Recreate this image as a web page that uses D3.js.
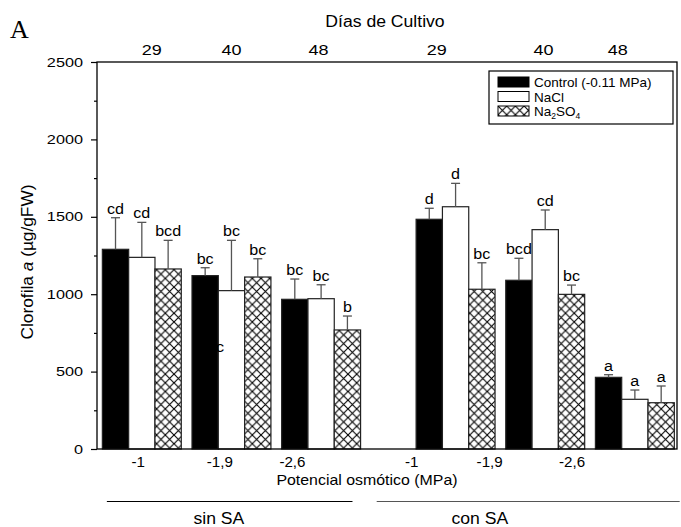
<!DOCTYPE html>
<html lang="es">
<head>
<meta charset="utf-8">
<script src="https://cdn.jsdelivr.net/npm/d3@7"></script>
<style>
  body { margin: 0; background: #fff; }
  #chart text { font-family: "Liberation Sans", Arial, sans-serif; fill: #000; }
</style>
</head>
<body>
<div id="chart"></div>
<script>
// Datos (clorofila a, µg/gFW)
const grupos = ["-1", "-1,9", "-2,6", "-1", "-1,9", "-2,6"];
const posGrupos = [0, 1, 2, 3.5, 4.5, 5.5];          // posición de cada grupo en el eje x
const series = ["Control (-0.11 MPa)", "NaCl", "Na2SO4"];
const control = [1290, 1120, 967, 1484, 1090, 463];
const nacl = [1238, 1023, 971, 1565, 1417, 321];
const na2so4 = [1163, 1111, 769, 1032, 999, 299];
const controlErr = [204, 51, 131, 71, 142, 17];
const naclErr = [226, 325, 90, 151, 127, 60];
const na2so4Err = [185, 118, 90, 171, 60, 108];
const controlLetras = ["cd", "bc", "bc", "d", "bcd", "a"];
const naclLetras = ["cd", "bc", "bc", "d", "cd", "a"];
const na2so4Letras = ["bcd", "bc", "b", "bc", "bc", "a"];

// Etiquetas de los ejes
const dias = ["29", "40", "48", "29", "40", "48"];
const diasPos = [0.11, 1.0, 1.97, 3.29, 4.48, 5.31];
const potPos = [-0.04, 0.87, 1.68, 3.01, 3.88, 4.8];
const yTicks = [0, 500, 1000, 1500, 2000, 2500];
const yMinor = [250, 750, 1250, 1750, 2250];
const bloques = [
  { nombre: "sin SA", ini: -0.39, fin: 2.35, texto: 0.86 },
  { nombre: "con SA", ini: 2.62, fin: 6.0, texto: 3.77 }
];
// Letra suelta que aparece medio tapada por la barra negra
const letraSuelta = { pos: 0.82, valor: 627, texto: "bc" };

const width = 681, height = 527;
const bw = 0.2935;  // ancho de barra en unidades de grupo

const x = d3.scaleLinear().domain([-0.5, 5.97]).range([97, 677]);
const y = d3.scaleLinear().domain([0, 2500]).range([449, 62]);

const svg = d3.select("#chart").append("svg")
  .attr("width", width)
  .attr("height", height);

// Ensancha un texto (el original está estirado en horizontal)
function widen(sel, k) {
  sel.each(function () {
    const w = this.getComputedTextLength();
    d3.select(this).attr("textLength", w * k).attr("lengthAdjust", "spacingAndGlyphs");
  });
}

// Patrón de rejilla cruzada para Na2SO4
const defs = svg.append("defs");
const p = 8.7;
const pat = defs.append("pattern")
  .attr("id", "cruz")
  .attr("patternUnits", "userSpaceOnUse")
  .attr("width", p).attr("height", p);
pat.append("rect").attr("width", p).attr("height", p).attr("fill", "#fff");
pat.append("path")
  .attr("d", `M0,0L${p},${p}M${p},0L0,${p}`)
  .attr("stroke", "#000").attr("stroke-width", 1.1);

const rellenos = ["#000", "#fff", "url(#cruz)"];
const valores = [control, nacl, na2so4];
const errores = [controlErr, naclErr, na2so4Err];
const letras = [controlLetras, naclLetras, na2so4Letras];

// Una fila por barra
const barras = [];
series.forEach((s, k) => {
  grupos.forEach((g, i) => {
    barras.push({
      serie: k,
      centro: posGrupos[i] + (k - 1) * bw,
      valor: valores[k][i],
      err: errores[k][i],
      letra: letras[k][i]
    });
  });
});

const bwPx = x(bw) - x(0);

// Barras
svg.append("g")
  .selectAll("rect")
  .data(barras)
  .join("rect")
  .attr("x", d => x(d.centro) - bwPx / 2)
  .attr("y", d => y(d.valor))
  .attr("width", bwPx)
  .attr("height", d => y(0) - y(d.valor))
  .attr("fill", d => rellenos[d.serie])
  .attr("stroke", "#222")
  .attr("stroke-width", 1.2);

// Letra suelta (la "b" queda sobre la barra negra)
svg.append("text")
  .attr("x", x(letraSuelta.pos))
  .attr("y", y(letraSuelta.valor))
  .attr("text-anchor", "middle")
  .attr("font-size", 14)
  .text(letraSuelta.texto)
  .call(widen, 1.2);

// Barras de error (solo la parte superior)
const eb = svg.append("g")
  .attr("stroke", "#555")
  .attr("stroke-width", 1.3)
  .selectAll("g")
  .data(barras)
  .join("g");
eb.append("line")
  .attr("x1", d => x(d.centro)).attr("x2", d => x(d.centro))
  .attr("y1", d => y(d.valor)).attr("y2", d => y(d.valor + d.err));
eb.append("line")
  .attr("x1", d => x(d.centro) - 4.5).attr("x2", d => x(d.centro) + 4.5)
  .attr("y1", d => y(d.valor + d.err)).attr("y2", d => y(d.valor + d.err));

// Letras de significancia
svg.append("g")
  .selectAll("text")
  .data(barras)
  .join("text")
  .attr("x", d => x(d.centro))
  .attr("y", d => y(d.valor + d.err) - 4)
  .attr("text-anchor", "middle")
  .attr("font-size", 14)
  .text(d => d.letra)
  .call(widen, 1.15);

// Marco
svg.append("rect")
  .attr("x", x(-0.5)).attr("y", y(2500))
  .attr("width", x(5.97) - x(-0.5))
  .attr("height", y(0) - y(2500))
  .attr("fill", "none")
  .attr("stroke", "#000")
  .attr("stroke-width", 1.3);

// Eje Y
const gy = svg.append("g")
  .attr("transform", `translate(${x(-0.5)},0)`)
  .call(d3.axisLeft(y).tickValues(yTicks).tickFormat(d3.format("d"))
    .tickSize(6).tickSizeOuter(0).tickPadding(8));
gy.select(".domain").remove();
gy.selectAll("line").attr("stroke", "#000").attr("stroke-width", 1.2);
gy.selectAll("text")
  .attr("font-size", 13)
  .attr("font-family", "Liberation Sans, Arial, sans-serif")
  .call(widen, 1.25);

const gym = svg.append("g")
  .attr("transform", `translate(${x(-0.5)},0)`)
  .call(d3.axisLeft(y).tickValues(yMinor).tickSize(3).tickFormat(""));
gym.select(".domain").remove();
gym.selectAll("line").attr("stroke", "#000").attr("stroke-width", 1.2);

// Título eje Y
const ty = svg.append("text")
  .attr("transform", "translate(33,262) rotate(-90)")
  .attr("text-anchor", "middle")
  .attr("font-size", 16);
ty.append("tspan").text("Clorofila ");
ty.append("tspan").attr("font-style", "italic").text("a");
ty.append("tspan").text(" (µg/gFW)");
ty.call(widen, 1.08);

// Días de cultivo (arriba)
svg.append("g")
  .selectAll("text")
  .data(dias)
  .join("text")
  .attr("x", (d, i) => x(diasPos[i]))
  .attr("y", 55)
  .attr("text-anchor", "middle")
  .attr("font-size", 15)
  .text(d => d)
  .call(widen, 1.2);

svg.append("text")
  .attr("x", 385).attr("y", 27)
  .attr("text-anchor", "middle")
  .attr("font-size", 16)
  .text("Días de Cultivo")
  .call(widen, 1.1);

// Potencial osmótico (abajo)
svg.append("g")
  .selectAll("text")
  .data(grupos)
  .join("text")
  .attr("x", (d, i) => x(potPos[i]))
  .attr("y", 467)
  .attr("text-anchor", "middle")
  .attr("font-size", 14)
  .text(d => d)
  .call(widen, 1.08);

svg.append("text")
  .attr("x", 367).attr("y", 485)
  .attr("text-anchor", "middle")
  .attr("font-size", 15)
  .text("Potencial osmótico (MPa)")
  .call(widen, 1.06);

// Bloques sin SA / con SA
const gb = svg.append("g")
  .selectAll("g")
  .data(bloques)
  .join("g");
gb.append("line")
  .attr("x1", d => x(d.ini)).attr("x2", d => x(d.fin))
  .attr("y1", 501.5).attr("y2", 501.5)
  .attr("stroke", (d, i) => i === 0 ? "#000" : "#555")
  .attr("stroke-width", 1);
gb.append("text")
  .attr("x", d => x(d.texto))
  .attr("y", 524)
  .attr("text-anchor", "middle")
  .attr("font-size", 16)
  .text(d => d.nombre)
  .call(widen, 1.1);

// Letra del panel
svg.append("text")
  .attr("x", 10).attr("y", 38)
  .attr("font-size", 26)
  .style("font-family", "Liberation Serif, Times New Roman, serif")
  .text("A");

// Leyenda
const leg = svg.append("g");
leg.append("rect")
  .attr("x", 489).attr("y", 71)
  .attr("width", 184).attr("height", 53)
  .attr("fill", "#fff")
  .attr("stroke", "#000")
  .attr("stroke-width", 1.2);
const filas = leg.selectAll("g.fila")
  .data(series)
  .join("g")
  .attr("class", "fila")
  .attr("transform", (d, i) => `translate(498,${77 + i * 14.5})`);
filas.append("rect")
  .attr("width", 31).attr("height", 10)
  .attr("fill", (d, i) => rellenos[i])
  .attr("stroke", "#000")
  .attr("stroke-width", 1);
filas.filter((d, i) => i < 2).append("text")
  .attr("x", 36).attr("y", 10)
  .attr("font-size", 13.5)
  .text(d => d);
const tna = filas.filter((d, i) => i === 2).append("text")
  .attr("x", 36).attr("y", 10)
  .attr("font-size", 13.5);
tna.append("tspan").text("Na");
tna.append("tspan").attr("font-size", 8.5).attr("dy", 3).text("2");
tna.append("tspan").attr("dy", -3).text("SO");
tna.append("tspan").attr("font-size", 8.5).attr("dy", 3).text("4");

console.log("Grafico ok");
</script>
</body>
</html>
